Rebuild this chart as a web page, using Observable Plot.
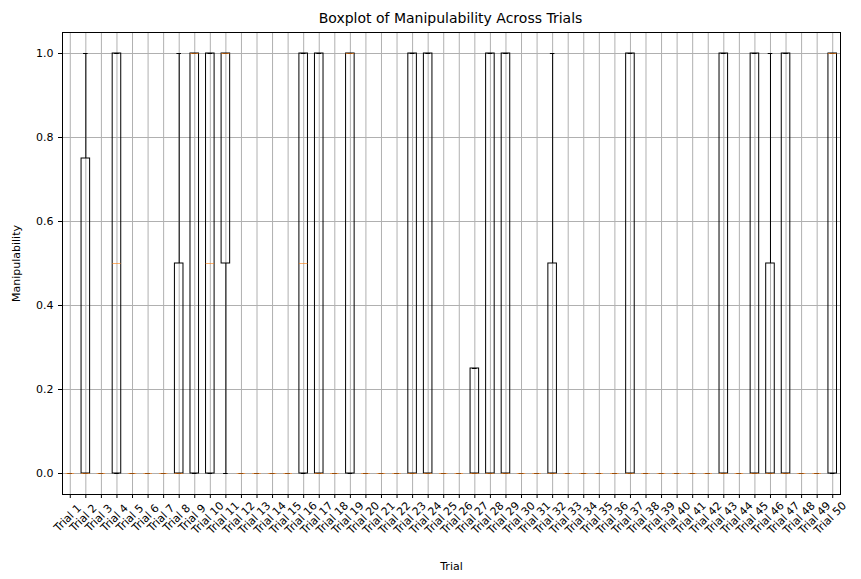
<!DOCTYPE html>
<html><head>
<script src="https://cdn.jsdelivr.net/npm/d3@7"></script>
<script src="https://cdn.jsdelivr.net/npm/@observablehq/plot@0.6"></script>
<style>
body{margin:0;background:#fff;font-family:"DejaVu Sans",sans-serif;}
#title{height:30px;line-height:36px;text-align:center;font-size:14px;padding-left:40px;}
</style>
</head><body>
<div id="title">Boxplot of Manipulability Across Trials</div>
<div id="chart"></div>
<script>
const trials = d3.range(1, 51).map(i => "Trial " + i);
// trial numbers that are non-zero, with [q1, median, q3, whiskerLow, whiskerHigh]
const boxStats = {
  2: [0, 0, 0.75, 0, 1],
  4: [0, 0.5, 1, 0, 1],
  8: [0, 0, 0.5, 0, 1],
  9: [0, 1, 1, 0, 1],
  10: [0, 0.5, 1, 0, 1],
  11: [0.5, 1, 1, 0, 1],
  16: [0, 0.5, 1, 0, 1],
  17: [0, 0, 1, 0, 1],
  19: [0, 1, 1, 0, 1],
  23: [0, 0, 1, 0, 1],
  24: [0, 0, 1, 0, 1],
  27: [0, 0, 0.25, 0, 0.25],
  28: [0, 0, 1, 0, 1],
  29: [0, 0, 1, 0, 1],
  32: [0, 0, 0.5, 0, 1],
  37: [0, 0, 1, 0, 1],
  43: [0, 0, 1, 0, 1],
  45: [0, 0, 1, 0, 1],
  46: [0, 0, 0.5, 0, 1],
  47: [0, 0, 1, 0, 1],
  50: [0, 1, 1, 0, 1]
};
const rows = trials.map((t, i) => {
  const s = boxStats[i + 1] || [0, 0, 0, 0, 0];
  return {trial: t, q1: s[0], med: s[1], q3: s[2], lo: s[3], hi: s[4]};
});

const chart = Plot.plot({
  width: 861,
  height: 549,
  marginLeft: 62,
  marginRight: 21,
  marginTop: 2,
  marginBottom: 85,
  style: {fontFamily: "DejaVu Sans", fontSize: "11px", color: "black"},
  x: {domain: trials, padding: 0, round: false, label: "Trial", labelAnchor: "center", labelOffset: 75},
  y: {domain: [-0.05, 1.05], ticks: [0, 0.2, 0.4, 0.6, 0.8, 1.0], tickFormat: d3.format(".1f"), label: "Manipulability", labelAnchor: "center", labelArrow: "none", labelOffset: 50, tickSize: 4},
  marks: [
    Plot.gridX(trials, {x: d => d, stroke: "#b0b0b0", strokeOpacity: 1}),
    Plot.gridY([0, 0.2, 0.4, 0.6, 0.8, 1.0], {stroke: "#b0b0b0", strokeOpacity: 1}),
    Plot.axisX({tickSize: 4, tickFormat: null, label: "Trial", labelAnchor: "center", labelOffset: 75}),
    Plot.text(trials, {x: d => d, text: d => d, frameAnchor: "bottom", dy: 26, rotate: -45, textAnchor: "middle", fontSize: 11}),
    Plot.ruleX(rows, {x: "trial", y1: "lo", y2: "q1", stroke: "black"}),
    Plot.ruleX(rows, {x: "trial", y1: "q3", y2: "hi", stroke: "black"}),
    Plot.tickY(rows, {x: "trial", y: "lo", stroke: "black", inset: 5.5}),
    Plot.tickY(rows, {x: "trial", y: "hi", stroke: "black", inset: 5.5}),
    Plot.barY(rows, {x: "trial", y1: "q1", y2: "q3", fill: "none", stroke: "black", insetLeft: 3.5, insetRight: 3.5, insetTop: 0, insetBottom: 0}),
    Plot.tickY(rows, {x: "trial", y: "med", stroke: "#ff7f0e", strokeOpacity: 0.6, inset: 3.5}),
    Plot.frame({stroke: "black"})
  ]
});
document.getElementById("chart").append(chart);
</script>
</body></html>
